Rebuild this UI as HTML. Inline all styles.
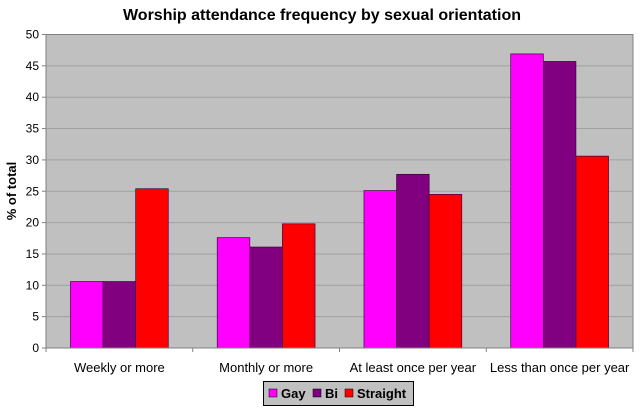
<!DOCTYPE html>
<html><head><meta charset="utf-8"><style>
body{margin:0;background:#fff;font-family:"Liberation Sans",Arial,sans-serif}
svg text{font-family:"Liberation Sans",Arial,sans-serif}
</style></head><body>
<svg width="640" height="407" viewBox="0 0 640 407">
<text x="322" y="20" text-anchor="middle" font-size="16" font-weight="bold" fill="#000">Worship attendance frequency by sexual orientation</text>
<rect x="46" y="34.5" width="587" height="313.5" fill="#c0c0c0" stroke="#808080" stroke-width="1"/>
<g id="grid"></g>
<g id="bars"></g>
<g id="axes"></g>
<text transform="translate(16,191) rotate(-90)" text-anchor="middle" font-size="13" font-weight="bold">% of total</text>
<g>
<rect x="263.5" y="381.5" width="150" height="24" fill="#c0c0c0" stroke="#000" stroke-width="1"/>
<g id="legend"></g>
</g>
</svg>
<script>
const categories=["Weekly or more","Monthly or more","At least once per year","Less than once per year"];
const seriesNames=["Gay","Bi","Straight"];
const gay=[10.6,17.6,25.1,46.9];
const bi=[10.6,16.1,27.7,45.7];
const straight=[25.4,19.8,24.5,30.6];
const yTicks=[0,5,10,15,20,25,30,35,40,45,50];
const colors=["#ff00ff","#800080","#ff0000"];
const NS="http://www.w3.org/2000/svg";
const L=46,R=633,T=34.5,B=348,yMax=50;
const y=v=>B-(v/yMax)*(B-T);
const gw=(R-L)/categories.length, bw=32.6;
const x=(ci,si)=>L+ci*gw+(gw-3*bw)/2+si*bw;
function mk(tag,attrs,parent){const e=document.createElementNS(NS,tag);for(const k in attrs)e.setAttribute(k,attrs[k]);parent.appendChild(e);return e;}
const grid=document.getElementById('grid'),bars=document.getElementById('bars'),axes=document.getElementById('axes'),leg=document.getElementById('legend');
yTicks.forEach(t=>{
 if(t>0&&t<yMax){const g=mk('line',{x1:L,x2:R,y1:y(t),y2:y(t),stroke:'#a0a0a0','stroke-width':1},grid);
 
 }
 const tk=mk('line',{x1:L-4,x2:L,y1:y(t),y2:y(t),stroke:'#808080'},axes);
 
 
 const tx=mk('text',{x:L-7,y:y(t)+4,'text-anchor':'end','font-size':12},axes);tx.textContent=t;
 
 
});
const series=[gay,bi,straight];
series.forEach((s,si)=>s.forEach((v,ci)=>{
 const r=mk('rect',{x:x(ci,si),y:y(v),width:bw,height:B-y(v),fill:colors[si],stroke:'#400040','stroke-width':0.7},bars);
 
 
}));
mk('line',{x1:L,x2:R,y1:B,y2:B,stroke:'#808080'},axes);
for(let i=0;i<=categories.length;i++){const tk=mk('line',{x1:L+i*gw,x2:L+i*gw,y1:B,y2:B+4,stroke:'#808080'},axes);
 
 }
categories.forEach((c,i)=>{const t=mk('text',{x:L+(i+0.5)*gw,y:372,'text-anchor':'middle','font-size':13},axes);t.textContent=c;
 
 });
const lx=[269,313,345];
seriesNames.forEach((n,i)=>{
 const sw=mk('rect',{x:lx[i],y:389,width:8,height:8,fill:colors[i],stroke:'#000','stroke-width':0.5},leg);
 
 
 const t=mk('text',{x:lx[i]+12,y:398,'font-size':13,'font-weight':'bold'},leg);t.textContent=n;
 
 
});
</script>
</body></html>
